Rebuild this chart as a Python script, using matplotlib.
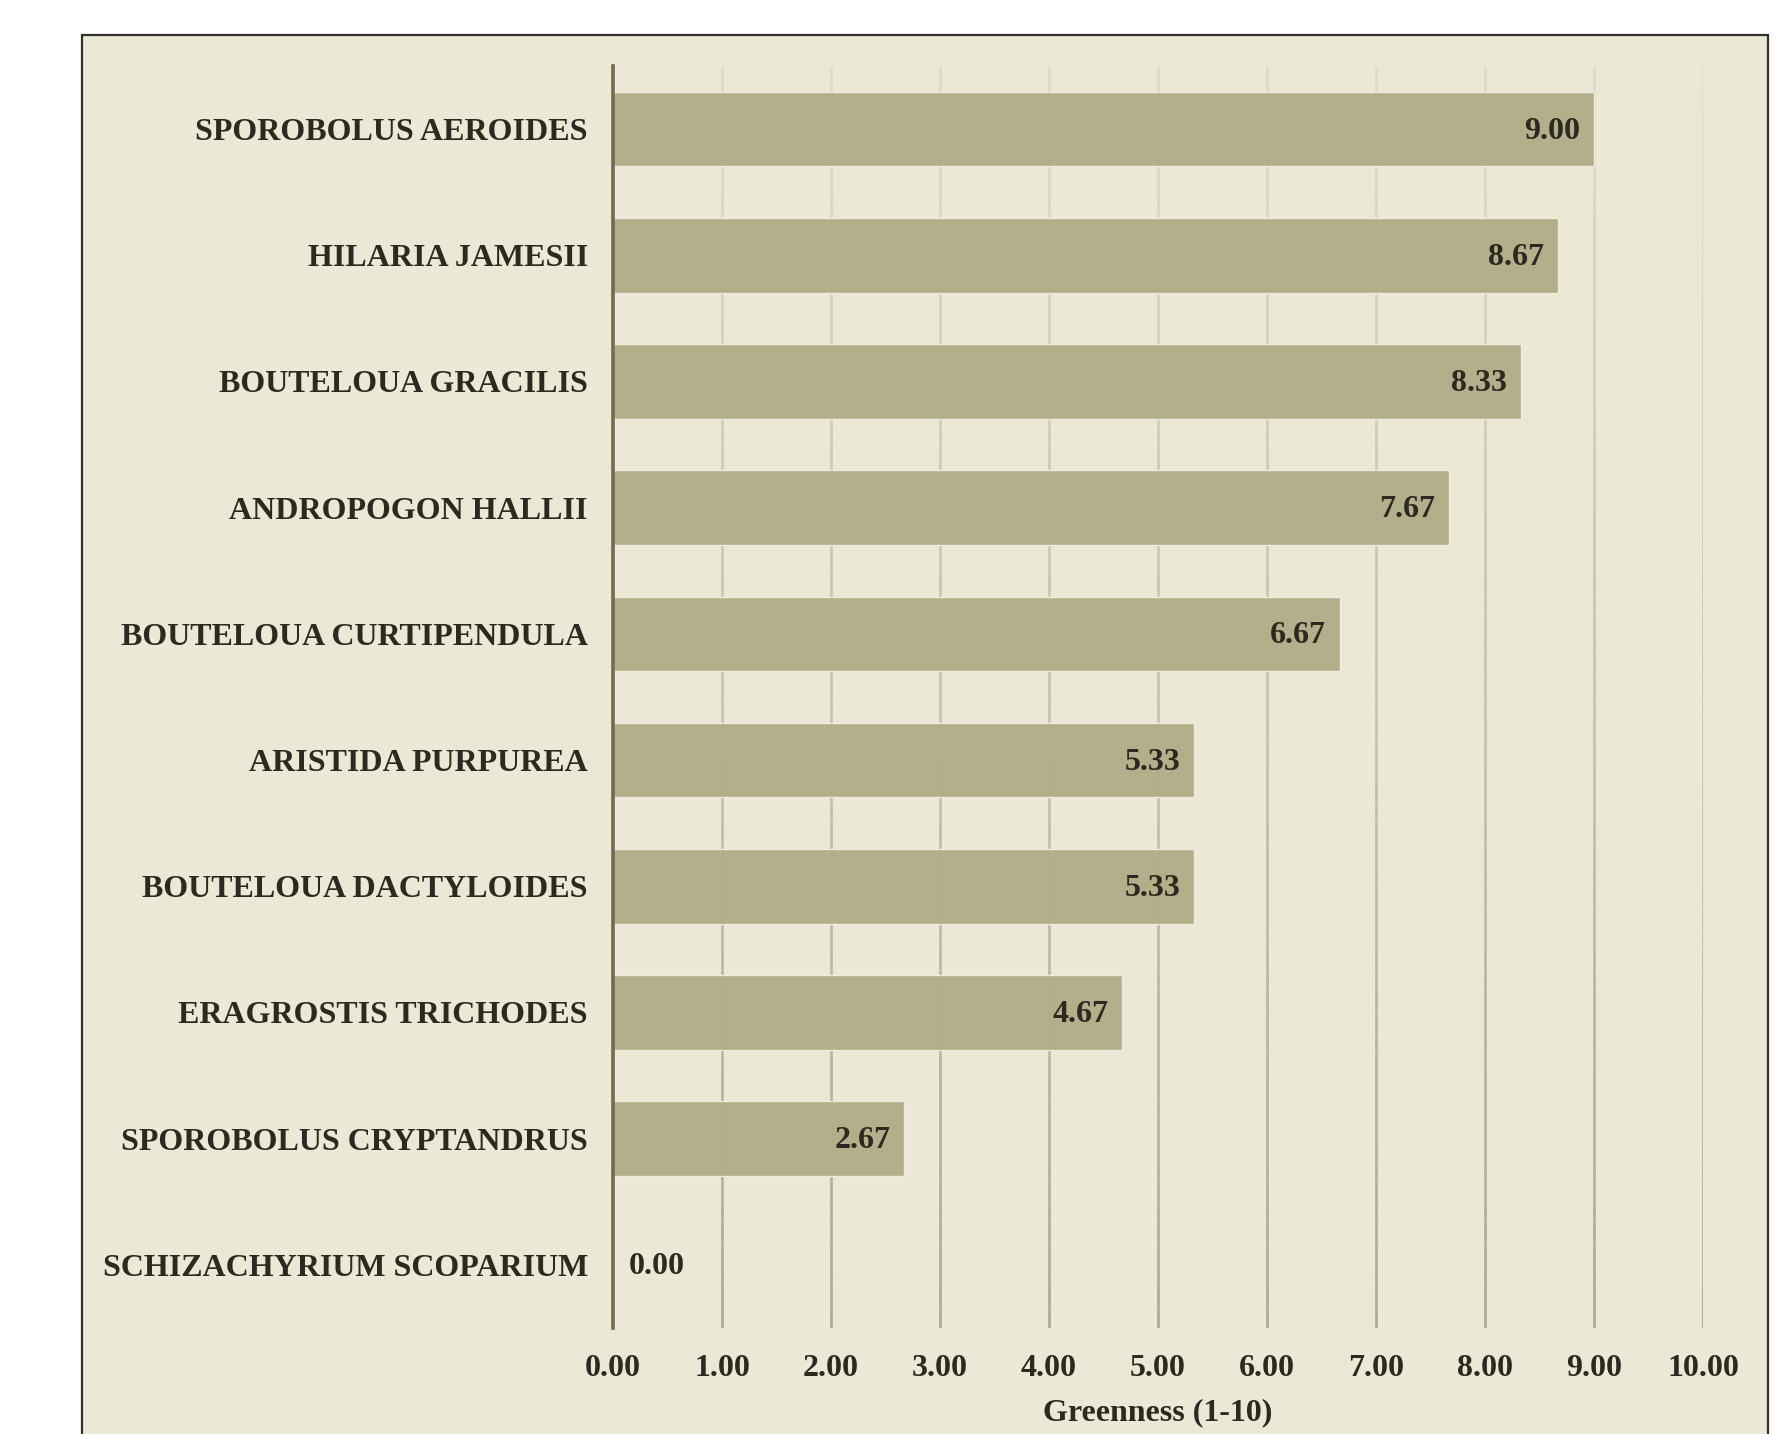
import matplotlib
matplotlib.use("Agg")
import numpy as np
import matplotlib.pyplot as plt
import matplotlib.transforms as mtransforms
from matplotlib.collections import LineCollection
from matplotlib.colors import to_rgb
from matplotlib.patches import Rectangle

species = ["SPOROBOLUS AEROIDES", "HILARIA JAMESII", "BOUTELOUA GRACILIS",
           "ANDROPOGON HALLII", "BOUTELOUA CURTIPENDULA", "ARISTIDA PURPUREA",
           "BOUTELOUA DACTYLOIDES", "ERAGROSTIS TRICHODES", "SPOROBOLUS CRYPTANDRUS",
           "SCHIZACHYRIUM SCOPARIUM"]
greenness = [9.00, 8.67, 8.33, 7.67, 6.67, 5.33, 5.33, 4.67, 2.67, 0.00]
xticks = [0, 1, 2, 3, 4, 5, 6, 7, 8, 9, 10]
xlabel = "Greenness (1-10)"

BG = "#ebe8d5"
BAR = "#b1ad87"
TXT = "#2c2920"
GRID_TOP = "#dedbc9"
GRID_BOT = "#aeab96"
SPINE = "#76694f"
FS = 23

W, H = 1790, 1434
fig = plt.figure(figsize=(W / 100, H / 100), dpi=100, facecolor="white")

# outer frame panel (extends below the visible area)
frame = Rectangle((82 / W, -0.2), (1768 - 82) / W, 1.2 - 35 / H,
                  transform=fig.transFigure, facecolor=BG, edgecolor="#33322c",
                  linewidth=1.6, zorder=-10)
fig.patches.append(frame)

left, right = 613 / W, 1703 / W
top, bottom = 1 - 66 / H, 1 - 1328 / H
ax = fig.add_axes([left, bottom, right - left, top - bottom])
ax.set_zorder(5)
ax.patch.set_alpha(0)

fam = ["Liberation Serif", "DejaVu Serif"]
ypos = list(range(len(species)))
ax.barh(ypos, greenness, height=0.59, color=BAR, edgecolor="#f0eee1",
        linewidth=1.0, alpha=0.96, zorder=2)

ax.set_xlim(0, 10)
ax.set_ylim(len(species) - 0.5, -0.5)
ax.set_xticks(xticks)
ax.set_xticklabels([f"{v:.2f}" for v in xticks], fontfamily=fam,
                   fontweight="bold", fontsize=FS, color=TXT)
ax.set_yticks(ypos)
ax.set_yticklabels(species, fontfamily=fam, fontweight="bold",
                   fontsize=FS, color=TXT)
ax.tick_params(axis="both", length=0)
ax.tick_params(axis="y", pad=18)
ax.tick_params(axis="x", pad=19)
ax.set_xlabel(xlabel, fontfamily=fam, fontweight="bold", fontsize=FS,
              color=TXT, labelpad=11)

# vertical gridlines with a light-to-dark gradient (top to bottom)
trans = mtransforms.blended_transform_factory(ax.transData, ax.transAxes)
n = 60
c0, c1 = np.array(to_rgb(GRID_TOP)), np.array(to_rgb(GRID_BOT))
segs, cols = [], []
for xt in xticks[1:]:
    for i in range(n):
        y0 = 1 - i / n
        y1 = 1 - (i + 1) / n
        segs.append([(xt, y0), (xt, y1)])
        t = (i + 0.5) / n
        cols.append(tuple(c0 * (1 - t) + c1 * t))
lc = LineCollection(segs, colors=cols, linewidths=2.0, transform=trans,
                    zorder=1, capstyle="butt")
ax.add_collection(lc)

for s in ["top", "right", "bottom"]:
    ax.spines[s].set_visible(False)
ax.spines["left"].set_color(SPINE)
ax.spines["left"].set_linewidth(2.6)
ax.spines["left"].set_zorder(3)

for y, v in zip(ypos, greenness):
    if v > 0.8:
        ax.annotate(f"{v:.2f}", xy=(v, y), xytext=(-10, -1.5),
                    textcoords="offset points", ha="right", va="center",
                    fontfamily=fam, fontweight="bold", fontsize=FS,
                    color=TXT, zorder=4)
    else:
        ax.annotate(f"{v:.2f}", xy=(v, y), xytext=(11, -1.5),
                    textcoords="offset points", ha="left", va="center",
                    fontfamily=fam, fontweight="bold", fontsize=FS,
                    color=TXT, zorder=4)

fig.savefig("out.png", dpi=100, facecolor="white")
